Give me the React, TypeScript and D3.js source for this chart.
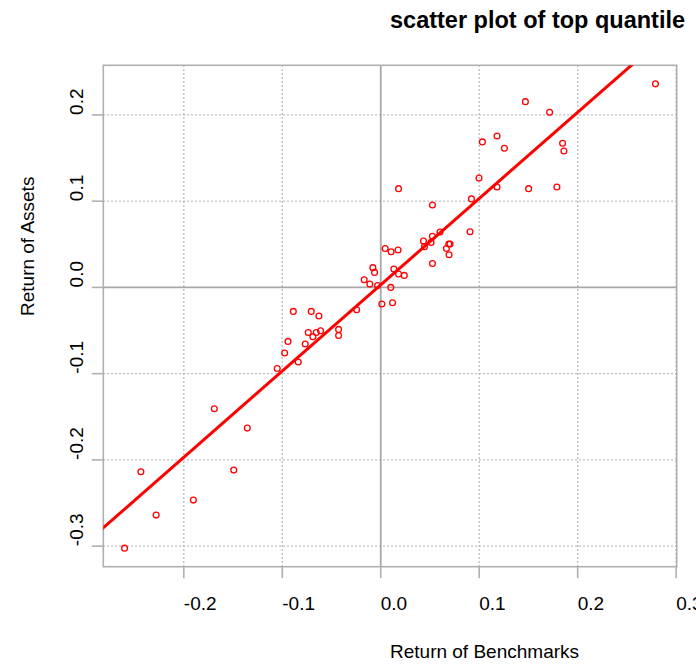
import React from "react";
import * as d3 from "d3";

const W = 696;
const H = 666;

// Return of Benchmarks (x) and Return of Assets (y)
const benchmarkReturns = [
  0.279, 0.1469, 0.1715, 0.1181, 0.1032, 0.1256, 0.1847, 0.186, 0.0181, 0.0998,
  0.1181, 0.1502, 0.1789, 0.0525, 0.0921, 0.0907, 0.0434, 0.0444, 0.0511, 0.0525,
  0.0602, 0.0667, 0.0691, 0.0704, 0.0694, 0.0525, 0.0045, 0.0105, 0.0176, -0.008,
  -0.0063, -0.0168, -0.0111, -0.0032, 0.0133, 0.0181, 0.0239, 0.0102, 0.0011, 0.012,
  -0.0245, -0.0888, -0.0706, -0.0628, -0.0736, -0.0689, -0.0655, -0.0611, -0.0428, -0.0428,
  -0.0942, -0.0767, -0.0976, -0.0838, -0.1051, -0.169, -0.1355, -0.2436, -0.1493, -0.1903,
  -0.2281, -0.2602,
];
const assetReturns = [
  0.236, 0.2154, 0.203, 0.1756, 0.1687, 0.1613, 0.1671, 0.1582, 0.1145, 0.1269,
  0.1165, 0.1145, 0.1165, 0.0956, 0.1026, 0.0646, 0.0538, 0.0472, 0.0522, 0.0592,
  0.0643, 0.0452, 0.0503, 0.0503, 0.0379, 0.0278, 0.0452, 0.0414, 0.0434, 0.0229,
  0.0174, 0.0089, 0.0039, 0.0023, 0.0213, 0.0155, 0.0139, 0.0, -0.0193, -0.0177,
  -0.0259, -0.0278, -0.0278, -0.0332, -0.0522, -0.0572, -0.0522, -0.0502, -0.0487, -0.0557,
  -0.0626, -0.0657, -0.0761, -0.0865, -0.094, -0.1407, -0.1631, -0.2138, -0.2118, -0.2466,
  -0.264, -0.3023,
];

const xTicks = [-0.2, -0.1, 0.0, 0.1, 0.2, 0.3];
const yTicks = [-0.3, -0.2, -0.1, 0.0, 0.1, 0.2];

const fitIntercept = 0.003;
const fitSlope = 1.0;

const title = "scatter plot of top quantile";
const xLabel = "Return of Benchmarks";
const yLabel = "Return of Assets";

const L = 103.3, R = 676.7, T = 65.3, B = 566.7;

function padded(vals: number[]): [number, number] {
  const [lo, hi] = d3.extent(vals) as [number, number];
  const p = (hi - lo) * 0.04;
  return [lo - p, hi + p];
}

const fmt = (t: number) => (Math.abs(t) < 1e-9 ? 0 : t).toFixed(1);

export default function App() {
  const x = d3.scaleLinear().domain(padded(benchmarkReturns)).range([L, R]);
  const y = d3.scaleLinear().domain(padded(assetReturns)).range([B, T]);
  const font = "'Liberation Sans', Arial, Helvetica, sans-serif";
  const gridCol = "#ababab";
  const boxCol = "#b0b0b0";

  const [x0, x1] = x.domain();
  const linePath = d3.line<number>()
    .x((d) => x(d))
    .y((d) => y(fitIntercept + fitSlope * d))([x0 - 0.05, x1 + 0.05]);

  return (
    <svg width={W} height={H} style={{ position: "absolute", left: 0, top: 0, background: "#fff" }} fontFamily={font}>
      <defs>
        <clipPath id="plotclip">
          <rect x={L} y={T} width={R - L} height={B - T} />
        </clipPath>
      </defs>
      {/* grid */}
      {xTicks.filter((t) => t !== 0).map((t) => (
        <line key={"gx" + t} x1={x(t)} x2={x(t)} y1={T} y2={B} stroke={gridCol} strokeWidth={1.4} strokeDasharray="1.5,2.5" />
      ))}
      {yTicks.filter((t) => t !== 0).map((t) => (
        <line key={"gy" + t} x1={L} x2={R} y1={y(t)} y2={y(t)} stroke={gridCol} strokeWidth={1.4} strokeDasharray="1.5,2.5" />
      ))}
      {/* zero lines */}
      <line x1={x(0)} x2={x(0)} y1={T} y2={B} stroke="#a8a8a8" strokeWidth={1.8} />
      <line x1={L} x2={R} y1={y(0)} y2={y(0)} stroke="#a8a8a8" strokeWidth={1.8} />
      {/* box */}
      <rect x={L} y={T} width={R - L} height={B - T} fill="none" stroke={boxCol} strokeWidth={1.6} />
      {/* ticks */}
      {xTicks.map((t) => (
        <g key={"tx" + t}>
          <line x1={x(t)} x2={x(t)} y1={B} y2={B + 11.5} stroke={boxCol} strokeWidth={1.6} />
          <text x={x(t)} y={609.5} fontSize={19} fill="#000">{fmt(t)}</text>
        </g>
      ))}
      {yTicks.map((t) => (
        <g key={"ty" + t}>
          <line x1={L - 11.5} x2={L} y1={y(t)} y2={y(t)} stroke={boxCol} strokeWidth={1.6} />
          <text transform={`translate(83,${y(t)}) rotate(-90)`} fontSize={19} fill="#000">{fmt(t)}</text>
        </g>
      ))}
      {/* points */}
      {benchmarkReturns.map((bx, i) => (
        <circle key={"p" + i} cx={x(bx)} cy={y(assetReturns[i])} r={2.9} fill="none" stroke="#ff0000" strokeWidth={1.3} />
      ))}
      {/* fit line */}
      <path d={linePath || ""} stroke="#ff0000" strokeWidth={3} fill="none" clipPath="url(#plotclip)" />
      {/* labels */}
      <text x={(L + R) / 2} y={28} fontSize={23.5} fontWeight="bold" fill="#000">{title}</text>
      <text x={(L + R) / 2} y={658} fontSize={19} fill="#000">{xLabel}</text>
      <text transform={`translate(33.5,${(T + B) / 2}) rotate(-90)`} fontSize={19} fill="#000">{yLabel}</text>
    </svg>
  );
}
